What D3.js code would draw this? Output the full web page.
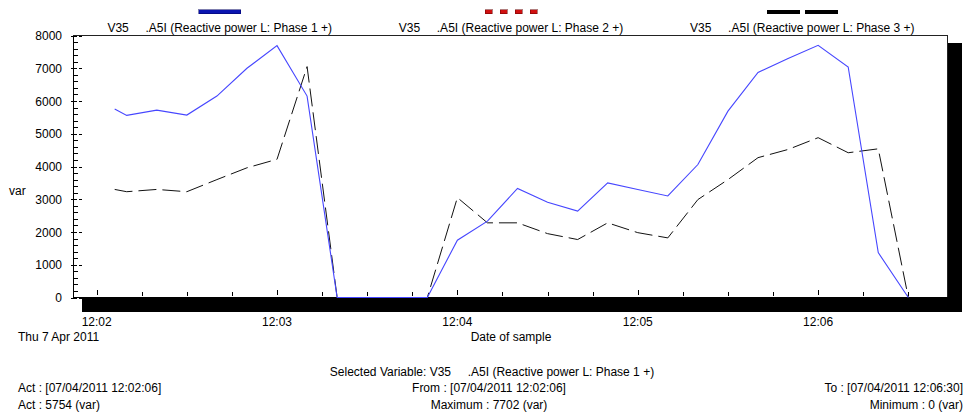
<!DOCTYPE html>
<html>
<head>
<meta charset="utf-8">
<script src="https://cdn.jsdelivr.net/npm/d3@7"></script>
<style>
  body { margin: 0; background: #fff; }
  svg { display: block; font-family: Arial, "Liberation Sans", sans-serif; font-size: 12px; }
  text { white-space: pre; fill: #000; }
</style>
</head>
<body>
<div id="chart"></div>
<script>
// samples, Thu 7 Apr 2011
const sampleTimes = [
  "12:02:06", "12:02:10", "12:02:20", "12:02:30", "12:02:40", "12:02:50",
  "12:03:00", "12:03:10", "12:03:20", "12:03:30", "12:03:40", "12:03:50",
  "12:04:00", "12:04:10", "12:04:20", "12:04:30", "12:04:40", "12:04:50",
  "12:05:00", "12:05:10", "12:05:20", "12:05:30", "12:05:40", "12:05:50",
  "12:06:00", "12:06:10", "12:06:20", "12:06:30"
];
const phase1 = [
  5754, 5560, 5720, 5570, 6150, 7000,
  7690, 6150, 0, 0, 0, 0,
  1750, 2330, 3330, 2910, 2640, 3500,
  3300, 3100, 4060, 5690, 6870, 7300,
  7702, 7040, 1370, 0
];
const phase3 = [
  3300, 3230, 3300, 3230, 3600, 3960,
  4220, 7050, 0, 0, 0, 0,
  3050, 2280, 2280, 1950, 1770, 2280,
  1980, 1820, 2990, 3600, 4270, 4520,
  4880, 4420, 4540, 0
];
const yTicks = [0, 1000, 2000, 3000, 4000, 5000, 6000, 7000, 8000];
const legendLabels = [
  "V35     .A5I (Reactive power L: Phase 1 +)",
  "V35     .A5I (Reactive power L: Phase 2 +)",
  "V35     .A5I (Reactive power L: Phase 3 +)"
];
const infoLeft = ["Act : [07/04/2011 12:02:06]", "Act : 5754 (var)"];
const infoMid = ["From : [07/04/2011 12:02:06]", "Maximum : 7702 (var)"];
const infoRight = ["To : [07/04/2011 12:06:30]", "Minimum : 0 (var)"];
const selectedLabel = "Selected Variable: V35     .A5I (Reactive power L: Phase 1 +)";

const width = 969, height = 414;
const plotL = 74, plotR = 948, plotT = 36, plotB = 298;

const parseTime = d3.timeParse("%Y-%m-%d %H:%M:%S");
const times = sampleTimes.map(t => parseTime("2011-04-07 " + t));
const pad = (times[times.length - 1] - times[0]) * 0.05;

const x = d3.scaleTime()
  .domain([new Date(+times[0] - pad), new Date(+times[times.length - 1] + pad)])
  .range([plotL + 1, plotR]);
const y = d3.scaleLinear()
  .domain([0, 8000])
  .range([plotB - 0.5, plotT - 0.5]);

const svg = d3.select("#chart").append("svg")
  .attr("width", width)
  .attr("height", height)
  .attr("viewBox", [0, 0, width, height]);

// drop shadow + plot box
svg.append("rect")
  .attr("x", plotL + 8).attr("y", plotT + 7)
  .attr("width", plotR - plotL + 6).attr("height", plotB - plotT + 7)
  .attr("fill", "#000");
svg.append("rect")
  .attr("x", plotL - 0.5).attr("y", plotT - 0.5)
  .attr("width", plotR - plotL).attr("height", plotB - plotT)
  .attr("fill", "#fff")
  .attr("stroke", "#222")
  .attr("stroke-width", 1);

svg.append("clipPath").attr("id", "clip")
  .append("rect")
  .attr("x", plotL).attr("y", plotT - 1)
  .attr("width", plotR - plotL).attr("height", plotB - plotT + 1);

// y axis
const yAxis = svg.append("g").attr("stroke", "#000").attr("shape-rendering", "crispEdges");
yAxis.selectAll(".minor")
  .data(d3.range(0, 8001, 200).filter(v => v % 1000 !== 0))
  .join("line")
    .attr("x1", plotL).attr("x2", plotL + 4)
    .attr("y1", d => Math.round(y(d)) + 0.5)
    .attr("y2", d => Math.round(y(d)) + 0.5);
yAxis.selectAll(".major")
  .data(yTicks)
  .join("line")
    .attr("x1", plotL - 3).attr("x2", plotL + 8)
    .attr("y1", d => Math.round(y(d)) + 0.5)
    .attr("y2", d => Math.round(y(d)) + 0.5)
    .attr("stroke-dasharray", "6,2");
yAxis.append("line")
  .attr("x1", plotL - 0.5).attr("x2", plotL - 0.5)
  .attr("y1", plotT - 0.5).attr("y2", plotB);

svg.append("g")
  .selectAll("text")
  .data(yTicks)
  .join("text")
    .attr("x", 62)
    .attr("y", d => y(d) + 4.5)
    .attr("text-anchor", "end")
    .text(d => d);

svg.append("text").attr("x", 9).attr("y", 195).text("var");

// x axis
const xAxis = svg.append("g").attr("stroke", "#000").attr("shape-rendering", "crispEdges");
const majorX = x.ticks(d3.timeMinute.every(1));
const minorX = x.ticks(d3.timeSecond.every(15)).filter(d => d.getSeconds() !== 0);
xAxis.selectAll(".minor")
  .data(minorX)
  .join("line")
    .attr("x1", d => Math.round(x(d)) + 0.5).attr("x2", d => Math.round(x(d)) + 0.5)
    .attr("y1", plotB - 6).attr("y2", plotB - 2);
xAxis.selectAll(".major")
  .data(majorX)
  .join("line")
    .attr("x1", d => Math.round(x(d)) + 0.5).attr("x2", d => Math.round(x(d)) + 0.5)
    .attr("y1", plotB - 8).attr("y2", plotB + 11)
    .attr("stroke-dasharray", "5,2");
xAxis.append("line")
  .attr("x1", plotL - 0.5).attr("x2", plotR)
  .attr("y1", plotB - 0.5).attr("y2", plotB - 0.5);

svg.append("g")
  .selectAll("text")
  .data(majorX)
  .join("text")
    .attr("x", d => x(d))
    .attr("y", 326)
    .attr("text-anchor", "middle")
    .text(d3.timeFormat("%H:%M"));

svg.append("text").attr("x", 18).attr("y", 341).text("Thu 7 Apr 2011");
svg.append("text").attr("x", (plotL + plotR) / 2).attr("y", 341)
  .attr("text-anchor", "middle").text("Date of sample");

// series
const line = d3.line()
  .x((d, i) => x(times[i]))
  .y(d => y(d));

const series = svg.append("g").attr("clip-path", "url(#clip)").attr("fill", "none");
series.append("path")
  .datum(phase3)
  .attr("d", line)
  .attr("stroke", "#111")
  .attr("stroke-width", 1)
  .attr("stroke-dasharray", "18,6");
series.append("path")
  .datum(phase1)
  .attr("d", line)
  .attr("stroke", "#4646ff")
  .attr("stroke-width", 1.1);

// legend, one item centred on each third of the plot
const third = (plotR - plotL) / 3;
const legendX = i => plotL + third * (i + 0.5);

svg.append("g")
  .selectAll("text")
  .data(legendLabels)
  .join("text")
    .attr("x", (d, i) => legendX(i))
    .attr("y", 32)
    .attr("text-anchor", "middle")
    .text(d => d);

const lg = svg.append("g").attr("shape-rendering", "crispEdges");
lg.append("rect")
  .attr("x", legendX(0) - 21).attr("y", 9.5)
  .attr("width", 42).attr("height", 4)
  .attr("fill", "#0a14b0").attr("stroke", "#000060").attr("stroke-width", 0.5);
lg.selectAll(".red")
  .data(d3.range(4))
  .join("rect")
    .attr("x", i => legendX(1) - 26 + i * 15).attr("y", 9.5)
    .attr("width", 7).attr("height", 4)
    .attr("fill", "#d01010").attr("stroke", "#600").attr("stroke-width", 0.5);
lg.selectAll(".blk")
  .data(d3.range(2))
  .join("rect")
    .attr("x", i => legendX(2) - 35 + i * 38).attr("y", 9.5)
    .attr("width", 33).attr("height", 4)
    .attr("fill", "#000");

// info block below the chart
svg.append("text").attr("x", 492).attr("y", 376)
  .attr("text-anchor", "middle").text(selectedLabel);

const infoY = [392, 409];
svg.append("g").selectAll("text").data(infoLeft).join("text")
  .attr("x", 18).attr("y", (d, i) => infoY[i]).text(d => d);
svg.append("g").selectAll("text").data(infoMid).join("text")
  .attr("x", 489).attr("y", (d, i) => infoY[i])
  .attr("text-anchor", "middle").text(d => d);
svg.append("g").selectAll("text").data(infoRight).join("text")
  .attr("x", 963).attr("y", (d, i) => infoY[i])
  .attr("text-anchor", "end").text(d => d);
</script>
</body>
</html>
